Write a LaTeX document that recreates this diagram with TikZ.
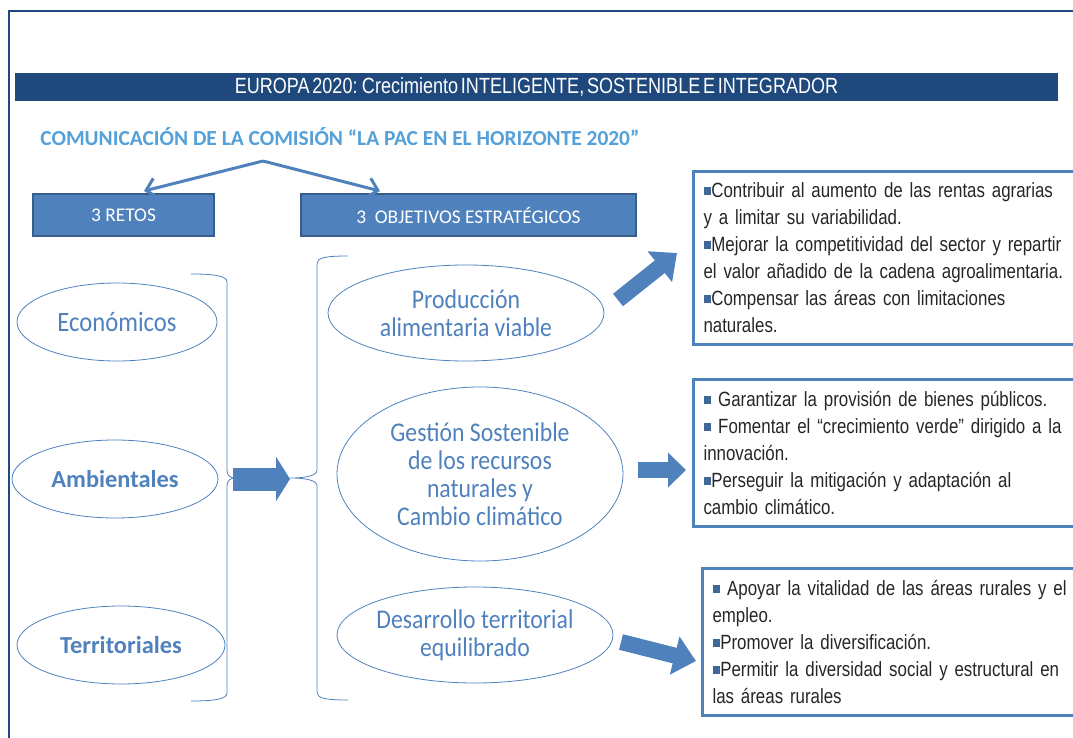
\documentclass[tikz,border=0pt]{standalone}
\usepackage{fontspec}
\setmainfont{Carlito}
\newfontfamily\narrowfont[FakeStretch=0.82,WordSpace=0.55]{Liberation Sans}
\newfontfamily\ellfont[FakeStretch=0.88]{Carlito}
\usetikzlibrary{shapes.geometric,arrows.meta}

\definecolor{darkblue}{RGB}{31,73,125}
\definecolor{midblue}{RGB}{79,129,189}
\definecolor{edgeblue}{RGB}{56,93,138}
\definecolor{lightblue}{RGB}{84,160,216}

\newcommand{\bul}{{\color{midblue!80!black}\rule[0.25ex]{0.38em}{0.38em}}}

\begin{document}
\begin{tikzpicture}[x=0.5pt,y=-0.5pt,
        reto/.style={ellipse,draw=midblue,thin,inner sep=0pt},
        rotulo/.style={text=midblue,align=center,inner sep=0pt,
                       font=\ellfont\fontsize{13.5}{14}\selectfont},
        cabecera/.style={draw=edgeblue,line width=1.2pt,fill=midblue,text=white,
                         inner sep=0pt,font=\fontsize{9.7}{11}\selectfont},
        lista/.style={draw=midblue,line width=1.5pt,anchor=north west,align=left,
                      text=black!85,inner xsep=5pt,text width=200pt,
                      font=\narrowfont\fontsize{10.3}{13.5}\selectfont},
        llave/.style={draw=midblue,thin},
        flecha/.style={draw=midblue,line width=1.5pt,-{Straight Barb[length=5pt,width=10pt]}},
        bloque/.style={draw=midblue,line width=#1}]
    \useasboundingbox (0,0) rectangle (1073,738);
    \clip (0,0) rectangle (1073,738);

    % marco
    \draw[darkblue,line width=1pt] (9,760) -- (9,11) -- (1090,11);

    \node[fill=darkblue,text=white,minimum width=521.5pt,minimum height=14pt,inner sep=0pt,
          font=\narrowfont\fontsize{11}{12}\selectfont] (europa) at (536.5,87)
          {EUROPA 2020: Crecimiento INTELIGENTE, SOSTENIBLE E INTEGRADOR};
    \node[anchor=west,text=lightblue,inner sep=0pt,font=\bfseries\fontsize{10.7}{12}\selectfont]
          (comision) at (40,137) {COMUNICACIÓN DE LA COMISIÓN “LA PAC EN EL HORIZONTE 2020”};

    \node[cabecera,minimum width=90.5pt,minimum height=21pt] (retos) at (123.5,215) {3 RETOS};
    \node[cabecera,minimum width=167.5pt,minimum height=21pt] (objetivos) at (468.5,215)
          {3\ \ OBJETIVOS ESTRATÉGICOS};

    \coordinate (apex) at (263,161);
    \coordinate (tipR) at (144,191);
    \coordinate (tipO) at (380,191);
    \draw[flecha] (apex) -- (tipR);
    \draw[flecha] (apex) -- (tipO);

    % retos
    \node[reto,minimum width=100pt,minimum height=39pt] (eco) at (117,322) {};
    \node[reto,minimum width=103pt,minimum height=39pt] (amb) at (115,479) {};
    \node[reto,minimum width=104pt,minimum height=39pt] (ter) at (121,645) {};
    \node[rotulo,font=\ellfont\fontsize{14}{14}\selectfont] (ecotxt) at (eco) {Económicos};
    \node[rotulo,font=\bfseries\fontsize{12.2}{13}\selectfont] (ambtxt) at (amb) {Ambientales};
    \node[rotulo,font=\bfseries\fontsize{12.2}{13}\selectfont] (tertxt) at (ter) {Territoriales};

    % objetivos
    \node[reto,minimum width=138pt,minimum height=48pt] (prod) at (466,313) {};
    \node[reto,minimum width=143pt,minimum height=87pt] (gest) at (480,474) {};
    \node[reto,minimum width=138pt,minimum height=48pt] (desa) at (475,635) {};
    \node[rotulo] (prodtxt) at (prod) {Producción\\alimentaria viable};
    \node[rotulo] (gesttxt) at (gest) {Gestión Sostenible\\de los recursos\\naturales y\\Cambio climático};
    \node[rotulo] (desatxt) at (desa) {Desarrollo territorial\\equilibrado};

    % llaves
    \draw[llave] (191,274) .. controls (215,274) and (227,276) .. (227,282) -- (227,470)
          .. controls (227,476) and (231,478) .. (235,478)
          .. controls (231,478) and (227,480) .. (227,486) -- (227,693)
          .. controls (227,699) and (215,701) .. (191,701);
    \draw[llave] (348,256) .. controls (324,256) and (317,258) .. (317,264) -- (317,470)
          .. controls (317,476) and (305,478) .. (290,478)
          .. controls (305,478) and (317,480) .. (317,486) -- (317,692)
          .. controls (317,698) and (324,700) .. (348,700);

    % listas
    \node[lista,minimum height=86.5pt] (lista1) at (692,170)
          {\bul Contribuir al aumento de las rentas agrarias\\
           y a limitar\ su variabilidad.\\
           \bul Mejorar la competitividad del sector y repartir\\
           el valor añadido de la cadena agroalimentaria.\\
           \bul Compensar las áreas con limitaciones\\
           naturales.};
    \node[lista,minimum height=73.5pt] (lista2) at (692,378)
          {\bul\,\,Garantizar la provisión de bienes públicos.\\
           \bul\,\,Fomentar el “crecimiento verde” dirigido a la\\
           innovación.\\
           \bul Perseguir la mitigación y adaptación al\\
           cambio climático.};
    \node[lista,minimum height=73.5pt] (lista3) at (701,567)
          {\bul\,\,Apoyar la vitalidad de las áreas rurales y el\\
           empleo.\\
           \bul Promover la diversificación.\\
           \bul Permitir la diversidad social y estructural en\\
           las áreas rurales};

    % flechas gruesas
    \coordinate (salR) at (233,479);
    \coordinate (entO) at (290,479);
    \draw[bloque=11.5pt,-{Triangle[length=7pt,width=22pt]}] (salR) -- (entO);
    \coordinate (sal1) at (618,300);
    \coordinate (ent1) at (677,253);
    \draw[bloque=8pt,-{Triangle[length=11pt,width=19pt]}] (sal1) -- (ent1);
    \coordinate (sal2) at (638,470);
    \coordinate (ent2) at (686,470);
    \draw[bloque=8pt,-{Triangle[length=9pt,width=17pt]}] (sal2) -- (ent2);
    \coordinate (sal3) at (621,642);
    \coordinate (ent3) at (696,661);
    \draw[bloque=8pt,-{Triangle[length=11pt,width=19pt]}] (sal3) -- (ent3);
\end{tikzpicture}
\end{document}
